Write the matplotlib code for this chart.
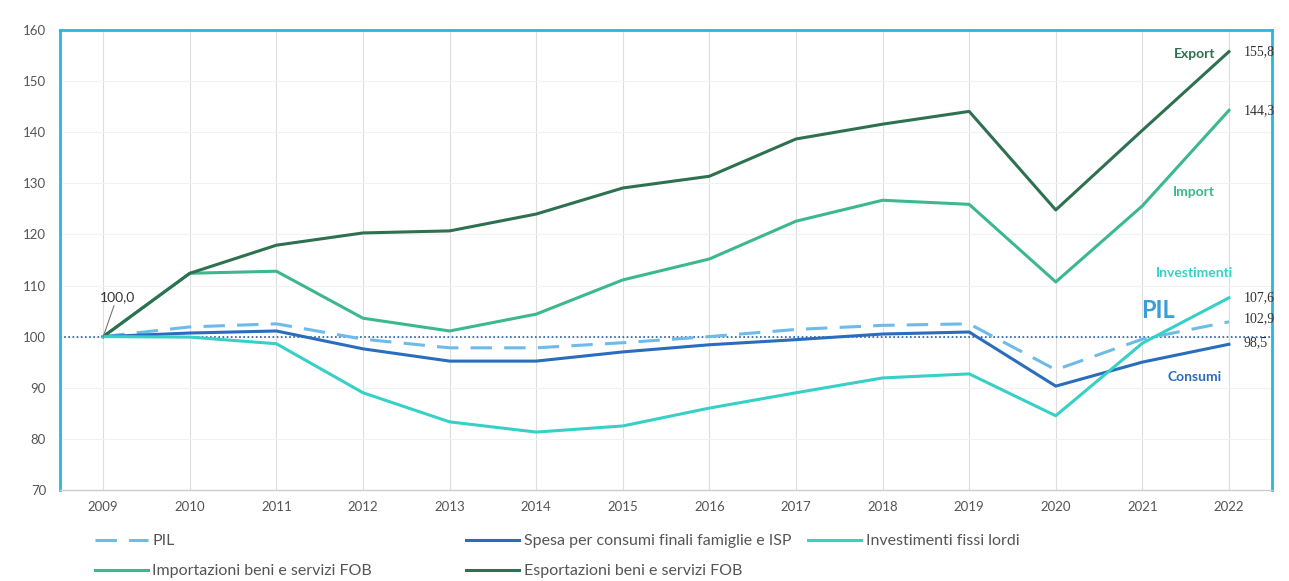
# Grafico indici 2009=100

import numpy as np
import matplotlib.pyplot as plt

anni = np.arange(2009, 2023)

pil = [100.0, 101.9, 102.5, 99.5, 97.8, 97.8, 98.8, 100.0, 101.4, 102.2, 102.5, 93.5, 99.5, 102.9]
consumi = [100.0, 100.7, 101.1, 97.6, 95.2, 95.2, 97.0, 98.4, 99.4, 100.5, 100.9, 90.3, 95.0, 98.5]
investimenti = [100.0, 99.9, 98.6, 89.0, 83.3, 81.3, 82.5, 86.0, 89.0, 91.9, 92.7, 84.5, 98.7, 107.6]
importazioni = [100.0, 112.4, 112.8, 103.6, 101.1, 104.4, 111.1, 115.2, 122.6, 126.7, 125.9, 110.7, 125.6, 144.3]
esportazioni = [100.0, 112.4, 117.9, 120.3, 120.7, 124.0, 129.1, 131.4, 138.7, 141.6, 144.1, 124.8, 140.4, 155.8]

# Colori
c_pil = "#6dbbe8"
c_cons = "#2a6cbd"
c_inv = "#36d0c6"
c_imp = "#3bb98c"
c_exp = "#2e7150"
c_bordo = "#29b6e0"

plt.rcParams['font.family'] = ['Lato', 'DejaVu Sans']

fig = plt.figure(figsize=(12.89, 5.81), dpi=100)
ax = fig.add_axes([0.0465, 0.157, 0.9405, 0.791])

l_pil, = ax.plot(anni, pil, color=c_pil, lw=2.2, dashes=(7, 4))
l_imp, = ax.plot(anni, importazioni, color=c_imp, lw=2.2)
l_cons, = ax.plot(anni, consumi, color=c_cons, lw=2.2)
l_exp, = ax.plot(anni, esportazioni, color=c_exp, lw=2.2)
l_inv, = ax.plot(anni, investimenti, color=c_inv, lw=2.2)

# linea base 100
ax.axhline(100, color="#2a5d9e", lw=1.2, ls=(0, (1, 1.5)), zorder=1)

ax.set_xlim(2008.5, 2022.5)
ax.set_ylim(70, 160)
ax.set_xticks(anni)
ax.set_yticks(np.arange(70, 161, 10))
ax.tick_params(length=0, labelsize=9.5, colors="#555555", pad=8)
ax.tick_params(axis="y", pad=10)

# griglia
for a in anni:
    ax.axvline(a, color="#dddddd", lw=0.8, zorder=0)
for v in np.arange(80, 160, 10):
    ax.axhline(v, color="#f2f2f2", lw=0.8, zorder=0)

for lato in ["left", "top", "right"]:
    ax.spines[lato].set_color(c_bordo)
    ax.spines[lato].set_linewidth(2)
ax.spines["bottom"].set_color("#cccccc")
ax.spines["bottom"].set_linewidth(1)

# etichette serie
ax.text(2021.6, 155.3, "Export", color=c_exp, fontsize=10, fontweight="bold", ha="center", va="center")
ax.text(2021.6, 128.3, "Import", color=c_imp, fontsize=10, fontweight="bold", ha="center", va="center")
ax.text(2021.6, 112.4, "Investimenti", color=c_inv, fontsize=10, fontweight="bold", ha="center", va="center")
ax.text(2021.18, 105.1, "PIL", color="#3a9fd9", fontsize=17, fontweight="bold", ha="center", va="center")
ax.text(2021.6, 92.0, "Consumi", color=c_cons, fontsize=10, fontweight="bold", ha="center", va="center")

# valori finali
fin = [(esportazioni[-1], 155.8), (importazioni[-1], 144.3), (investimenti[-1], 107.6),
       (pil[-1], 103.5), (consumi[-1], 98.8)]
for val, ypos in fin:
    ax.text(2022.17, ypos, f"{val:.1f}".replace(".", ","), fontsize=10, color="#333333",
            family="Liberation Serif", ha="left", va="center", clip_on=False)

ax.annotate("100,0", xy=(2009, 100), xytext=(2009.16, 107.8), fontsize=10, color="#333333",
            ha="center", va="center",
            arrowprops=dict(arrowstyle="-", color="#777777", lw=0.8, shrinkA=0, shrinkB=0))

# legenda in tre colonne
colonne = [
    ([l_pil, l_imp], ["PIL", "Importazioni beni e servizi FOB"], 95),
    ([l_cons, l_exp], ["Spesa per consumi finali famiglie e ISP", "Esportazioni beni e servizi FOB"], 466),
    ([l_inv], ["Investimenti fissi lordi"], 808),
]
for h, lab, xpx in colonne:
    leg = fig.legend(h, lab, loc="upper left", bbox_to_anchor=(xpx / 1289, 1 - 534 / 581),
                     frameon=False, fontsize=11.5, handlelength=3.3, handletextpad=0.3,
                     borderpad=0, borderaxespad=0, labelspacing=1.0, labelcolor="#555555")

fig.savefig("out.png", dpi=100)
